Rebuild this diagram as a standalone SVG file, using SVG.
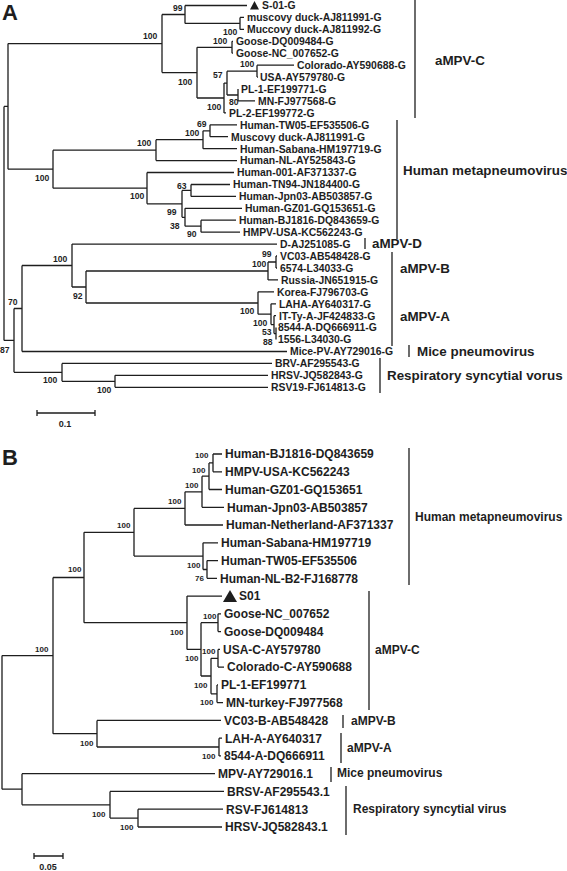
<svg xmlns="http://www.w3.org/2000/svg" width="567" height="871" viewBox="0 0 567 871">
<style>
.br{stroke:#1e1e1e;stroke-width:1.3;fill:none}
.cb{stroke:#1e1e1e;stroke-width:1.3;fill:none}
text{font-family:"Liberation Sans",Arial,sans-serif;font-weight:bold;fill:#1e1e1e}
.la{font-size:10.4px}
.lb{font-size:12px}
.ca{font-size:13.4px}
.cbl{font-size:12px}
.ba{font-size:8.6px}
.bb{font-size:8px}
.pl{font-size:22px}
.sc{font-size:9px}
</style>
<rect width="567" height="871" fill="#fff"/>
<text class="pl" x="2" y="20">A</text>
<text class="pl" x="2" y="465">B</text>
<g id="connectors">
<path class="br" d="M4 106.4V340.4 M4 106.4H8 M8 43.6V169.2 M8 43.6H162 M162 14.5V72.6 M162 14.5H185 M185 5.5V23.4 M185 5.5H247 M185 23.4H240 M240 17.4V29.4 M240 17.4H244 M240 29.4H244 M162 72.6H197 M197 47.3V98 M197 47.3H232 M232 41.3V53.2 M232 41.3H233 M232 53.2H233 M197 98H224 M224 83.1V112.9 M224 112.9H226 M224 83.1H227 M227 71.2V95 M227 71.2H257 M257 65.2V77.1 M257 65.2H294 M257 77.1H258 M227 95H238 M238 89V100.9 M238 100.9H255"/>
<path class="br" d="M8 169.2H53 M53 150.2V188.2 M53 150.2H156 M156 139.7V160.6 M156 160.6H237 M156 139.7H203 M203 130.8V148.7 M203 148.7H237 M203 130.8H210 M210 124.8V136.7 M210 124.8H237 M210 136.7H228 M53 188.2H147 M147 172.5V203.8 M147 172.5H234 M147 203.8H182 M182 190.4V217.3 M182 190.4H191 M191 184.5V196.4 M191 184.5H230 M191 196.4H236 M182 217.3H185 M185 208.3V226.2 M185 208.3H242 M185 226.2H201 M201 220.2V232.2 M201 220.2H236 M201 232.2H240"/>
<path class="br" d="M4 340.4H14 M14 308.5V372.3 M14 308.5H22 M22 265.5V351.5 M22 351.5H287 M22 265.5H72 M72 244.1V287 M72 244.1H277 M72 287H86 M86 271V303 M86 271H268 M268 262V279.9 M268 279.9H278 M268 262H276 M276 256V268 M276 256H277 M276 268H277 M86 303H258 M258 291.8V314.2 M258 291.8H274 M258 314.2H271 M271 303.8V324.6 M271 303.8H276 M271 324.6H274 M274 315.7V333.6 M274 315.7H276 M274 333.6H276 M276 327.6V339.5 M14 372.3H62 M62 363.4V381.3 M62 363.4H272 M62 381.3H115 M115 375.3V387.3 M115 375.3H268 M115 387.3H268"/>
<path class="br" d="M37 413H95 M37 410V416 M95 410V416"/>
<path class="br" d="M2 655.6V789.2 M2 655.6H53 M53 577.5V733.7 M53 577.5H84 M84 532.3V622.7 M84 532.3H134 M134 508.4V556.1 M134 508.4H185 M185 491.8V525 M185 525H223 M185 491.8H202 M202 476.2V507.3 M202 507.3H224 M202 476.2H209 M209 462.9V489.5 M209 489.5H222 M209 462.9H213 M213 454V471.8 M213 454H222 M213 471.8H222 M134 556.1H203 M203 542.8V569.5 M203 542.8H218 M203 569.5H207 M207 560.6V578.3 M207 560.6H218 M207 578.3H217"/>
<path class="br" d="M84 622.7H187 M187 596.1V649.4 M187 596.1H222 M187 649.4H201 M201 622.7V676 M201 622.7H218 M218 613.8V631.6 M218 613.8H221 M218 631.6H221 M201 676H211 M211 658.3V693.8 M211 658.3H218 M218 649.4V667.1 M218 649.4H220 M218 667.1H224 M211 693.8H217 M217 684.9V702.6 M217 684.9H218 M217 702.6H223"/>
<path class="br" d="M53 733.7H97 M97 720.4V747 M97 720.4H221 M97 747H219 M219 738.2V755.9 M219 738.2H222 M219 755.9H221 M2 789.2H22 M22 773.7V804.8 M22 773.7H215 M22 804.8H110 M110 791.4V818.1 M110 791.4H224 M110 818.1H138 M138 809.2V827 M138 809.2H223 M138 827H222"/>
<path class="br" d="M34 856H63 M34 853V859 M63 853V859"/>
</g>
<g id="bootstrap-a" class="ba">
<text class="ba" x="173" y="11">99</text>
<text class="ba" x="143" y="38.5">100</text>
<text class="ba" x="223" y="35">100</text>
<text class="ba" x="213" y="43.5">100</text>
<text class="ba" x="178" y="85">100</text>
<text class="ba" x="240" y="67">100</text>
<text class="ba" x="213" y="78">57</text>
<text class="ba" x="229" y="105">80</text>
<text class="ba" x="207" y="110">100</text>
<text class="ba" x="197" y="127">69</text>
<text class="ba" x="185" y="136">100</text>
<text class="ba" x="137" y="146">100</text>
<text class="ba" x="35" y="181">100</text>
<text class="ba" x="130" y="199">100</text>
<text class="ba" x="177" y="189">63</text>
<text class="ba" x="167" y="215">99</text>
<text class="ba" x="170" y="229">38</text>
<text class="ba" x="187" y="237">90</text>
<text class="ba" x="53" y="262">100</text>
<text class="ba" x="73" y="299">92</text>
<text class="ba" x="262" y="257">99</text>
<text class="ba" x="252" y="267">100</text>
<text class="ba" x="240" y="314">100</text>
<text class="ba" x="253" y="326">100</text>
<text class="ba" x="262" y="335">53</text>
<text class="ba" x="263" y="345">88</text>
<text class="ba" x="8" y="305">70</text>
<text class="ba" x="0" y="353">87</text>
<text class="ba" x="43" y="383">100</text>
<text class="ba" x="97" y="393">100</text>
<text class="sc" x="65" y="427" text-anchor="middle">0.1</text>
</g>
<g id="leaves-a" class="la">
<polygon points="250,9.5 254.5,1 259,9.5" fill="#1e1e1e"/>
<g id="a-s01"><text class="la" x="262" y="9.3">S-01-G</text></g>
<g id="a-musc1"><text class="la" x="247" y="21.2">muscovy duck-AJ811991-G</text></g>
<g id="a-musc2"><text class="la" x="247" y="33.2">Muccovy duck-AJ811992-G</text></g>
<g id="a-goose1"><text class="la" x="236" y="45.1">Goose-DQ009484-G</text></g>
<g id="a-goose2"><text class="la" x="236" y="57">Goose-NC_007652-G</text></g>
<g id="a-colorado"><text class="la" x="297" y="69">Colorado-AY590688-G</text></g>
<g id="a-usa"><text class="la" x="260" y="80.9">USA-AY579780-G</text></g>
<g id="a-pl1"><text class="la" x="241" y="92.8">PL-1-EF199771-G</text></g>
<g id="a-mn"><text class="la" x="258" y="104.7">MN-FJ977568-G</text></g>
<g id="a-pl2"><text class="la" x="229" y="116.7">PL-2-EF199772-G</text></g>
<g id="a-tw05"><text class="la" x="240" y="128.6">Human-TW05-EF535506-G</text></g>
<g id="a-musc3"><text class="la" x="231" y="140.5">Muscovy duck-AJ811991-G</text></g>
<g id="a-sabana"><text class="la" x="240" y="152.5">Human-Sabana-HM197719-G</text></g>
<g id="a-nl"><text class="la" x="240" y="164.4">Human-NL-AY525843-G</text></g>
<g id="a-001"><text class="la" x="237" y="176.3">Human-001-AF371337-G</text></g>
<g id="a-tn94"><text class="la" x="233" y="188.3">Human-TN94-JN184400-G</text></g>
<g id="a-jpn03"><text class="la" x="239" y="200.2">Human-Jpn03-AB503857-G</text></g>
<g id="a-gz01"><text class="la" x="245" y="212.1">Human-GZ01-GQ153651-G</text></g>
<g id="a-bj1816"><text class="la" x="239" y="224">Human-BJ1816-DQ843659-G</text></g>
<g id="a-hmpvusa"><text class="la" x="243" y="236">HMPV-USA-KC562243-G</text></g>
<g id="a-d"><text class="la" x="280" y="247.9">D-AJ251085-G</text></g>
<g id="a-vc03"><text class="la" x="280" y="259.8">VC03-AB548428-G</text></g>
<g id="a-6574"><text class="la" x="280" y="271.8">6574-L34033-G</text></g>
<g id="a-russia"><text class="la" x="281" y="283.7">Russia-JN651915-G</text></g>
<g id="a-korea"><text class="la" x="277" y="295.6">Korea-FJ796703-G</text></g>
<g id="a-laha"><text class="la" x="279" y="307.6">LAHA-AY640317-G</text></g>
<g id="a-itty"><text class="la" x="279" y="319.5">IT-Ty-A-JF424833-G</text></g>
<g id="a-8544"><text class="la" x="278" y="331.4">8544-A-DQ666911-G</text></g>
<g id="a-1556"><text class="la" x="278" y="343.3">1556-L34030-G</text></g>
<g id="a-mice"><text class="la" x="290" y="355.3">Mice-PV-AY729016-G</text></g>
<g id="a-brv"><text class="la" x="275" y="367.2">BRV-AF295543-G</text></g>
<g id="a-hrsv"><text class="la" x="271" y="379.1">HRSV-JQ582843-G</text></g>
<g id="a-rsv19"><text class="la" x="271" y="391.1">RSV19-FJ614813-G</text></g>
</g>
<g id="clades-a">
<g id="a-clade-c"><path class="cb" d="M415 0V118"/><text class="ca" x="435" y="64.5">aMPV-C</text></g>
<g id="a-clade-hmpv"><path class="cb" d="M397 120V239"/><text class="ca" x="403" y="174.5">Human metapneumovirus</text></g>
<g id="a-clade-d"><path class="cb" d="M365 238V249"/><text class="ca" x="372" y="247.5">aMPV-D</text></g>
<g id="a-clade-ba"><path class="cb" d="M392 252V346"/><text class="ca" x="400" y="272.5">aMPV-B</text><text class="ca" x="400" y="320.5">aMPV-A</text></g>
<g id="a-clade-mice"><path class="cb" d="M409 345V357"/><text class="ca" x="417" y="355.5">Mice pneumovirus</text></g>
<g id="a-clade-rsv"><path class="cb" d="M380 358V393"/><text class="ca" x="387" y="379.5">Respiratory syncytial vorus</text></g>
</g>
<g id="bootstrap-b">
<text class="bb" x="195" y="458">100</text>
<text class="bb" x="192" y="473">100</text>
<text class="bb" x="185" y="488">100</text>
<text class="bb" x="168" y="504">100</text>
<text class="bb" x="117" y="528">100</text>
<text class="bb" x="187" y="568">100</text>
<text class="bb" x="195" y="581">76</text>
<text class="bb" x="68" y="572">100</text>
<text class="bb" x="35" y="652">100</text>
<text class="bb" x="170" y="635">100</text>
<text class="bb" x="203" y="619">100</text>
<text class="bb" x="202" y="654">100</text>
<text class="bb" x="185" y="661">100</text>
<text class="bb" x="194" y="688">100</text>
<text class="bb" x="200" y="705">100</text>
<text class="bb" x="80" y="746">100</text>
<text class="bb" x="202" y="759">100</text>
<text class="bb" x="92" y="817">100</text>
<text class="bb" x="120" y="830">100</text>
<text class="sc" x="48" y="870" text-anchor="middle">0.05</text>
</g>
<g id="leaves-b">
<polygon points="223,602 230,590 237,602" fill="#1e1e1e"/>
<g id="b-bj1816"><text class="lb" x="225" y="458.3">Human-BJ1816-DQ843659</text></g>
<g id="b-hmpvusa"><text class="lb" x="225" y="476.1">HMPV-USA-KC562243</text></g>
<g id="b-gz01"><text class="lb" x="225" y="493.8">Human-GZ01-GQ153651</text></g>
<g id="b-jpn03"><text class="lb" x="227" y="511.6">Human-Jpn03-AB503857</text></g>
<g id="b-neth"><text class="lb" x="226" y="529.3">Human-Netherland-AF371337</text></g>
<g id="b-sabana"><text class="lb" x="221" y="547.1">Human-Sabana-HM197719</text></g>
<g id="b-tw05"><text class="lb" x="221" y="564.9">Human-TW05-EF535506</text></g>
<g id="b-nlb2"><text class="lb" x="220" y="582.6">Human-NL-B2-FJ168778</text></g>
<g id="b-s01"><text class="lb" x="239" y="600.4">S01</text></g>
<g id="b-goose1"><text class="lb" x="224" y="618.1">Goose-NC_007652</text></g>
<g id="b-goose2"><text class="lb" x="224" y="635.9">Goose-DQ009484</text></g>
<g id="b-usac"><text class="lb" x="223" y="653.7">USA-C-AY579780</text></g>
<g id="b-colorado"><text class="lb" x="227" y="671.4">Colorado-C-AY590688</text></g>
<g id="b-pl1"><text class="lb" x="221" y="689.2">PL-1-EF199771</text></g>
<g id="b-mn"><text class="lb" x="226" y="706.9">MN-turkey-FJ977568</text></g>
<g id="b-vc03"><text class="lb" x="224" y="724.7">VC03-B-AB548428</text></g>
<g id="b-lah"><text class="lb" x="225" y="742.5">LAH-A-AY640317</text></g>
<g id="b-8544"><text class="lb" x="224" y="760.2">8544-A-DQ666911</text></g>
<g id="b-mpv"><text class="lb" x="218" y="778">MPV-AY729016.1</text></g>
<g id="b-brsv"><text class="lb" x="227" y="795.7">BRSV-AF295543.1</text></g>
<g id="b-rsv"><text class="lb" x="226" y="813.5">RSV-FJ614813</text></g>
<g id="b-hrsv"><text class="lb" x="225" y="831.3">HRSV-JQ582843.1</text></g>
</g>
<g id="clades-b">
<g id="b-clade-hmpv"><path class="cb" d="M409 448V585"/><text class="cbl" x="415" y="521">Human metapneumovirus</text></g>
<g id="b-clade-c"><path class="cb" d="M369 591V710"/><text class="cbl" x="375" y="654">aMPV-C</text></g>
<g id="b-clade-b"><path class="cb" d="M343 715V728"/><text class="cbl" x="351" y="725">aMPV-B</text></g>
<g id="b-clade-a"><path class="cb" d="M341 733V763"/><text class="cbl" x="347" y="752">aMPV-A</text></g>
<g id="b-clade-mice"><path class="cb" d="M331 767V782"/><text class="cbl" x="337" y="777">Mice pneumovirus</text></g>
<g id="b-clade-rsv"><path class="cb" d="M346 786V835"/><text class="cbl" x="353" y="813">Respiratory syncytial virus</text></g>
</g>
</svg>
